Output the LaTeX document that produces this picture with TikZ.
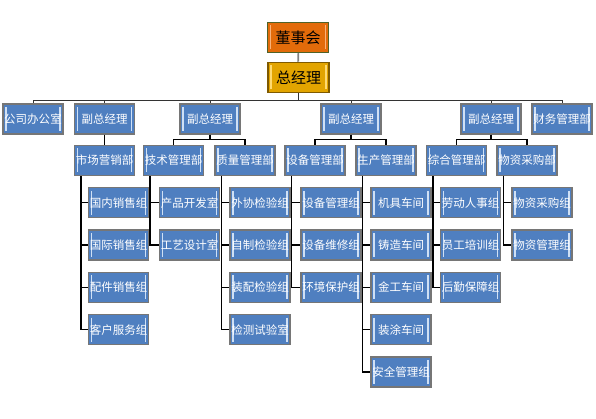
\documentclass[tikz,border=0pt]{standalone}
\usepackage{fontspec}
\newfontfamily\cjk{Noto Sans CJK SC}
\usetikzlibrary{positioning, calc}

\definecolor{boxblue}{HTML}{4F7FC0}
\definecolor{boxedge}{HTML}{767676}
\definecolor{barblue}{HTML}{CFE0F5}
\definecolor{boardorange}{HTML}{E26B0A}
\definecolor{boardedge}{HTML}{4F6228}
\definecolor{barorange}{HTML}{F9B27A}
\definecolor{gmgold}{HTML}{E2A400}
\definecolor{gmedge}{HTML}{7F5A00}
\definecolor{bargold}{HTML}{FFDA70}

\tikzset{
  bevel/.style={path picture={
    \draw[#1, line width=1.5pt] ([xshift=3pt,yshift=-3pt]path picture bounding box.north west) -- ([xshift=3pt,yshift=3pt]path picture bounding box.south west);
    \draw[#1, line width=1.5pt] ([xshift=-3pt,yshift=-3pt]path picture bounding box.north east) -- ([xshift=-3pt,yshift=3pt]path picture bounding box.south east);}},
  unit/.style={draw=boxedge, line width=1.3pt, fill=boxblue, bevel=barblue, minimum width=60pt, minimum height=30pt, inner sep=0pt, text=white, font=\cjk\fontsize{11.5}{12}\selectfont},
  topunit/.style={draw=#1, line width=1.5pt, minimum width=61pt, minimum height=30pt, inner sep=0pt, text=black, font=\cjk\fontsize{15}{16}\selectfont},
  link/.style={draw=black, line width=1.4pt},
  bus/.style={draw=black!80, line width=1pt}
}

\begin{document}
\begin{tikzpicture}[x=1pt, y=-1pt]
    \useasboundingbox (0,0) rectangle (596,419);

    % top
    \node[topunit=boardedge, fill=boardorange, bevel=barorange] (board) at (298,37.5) {董事会};
    \node[topunit=gmedge, fill=gmgold, bevel=bargold] (gm) at (298.5,77.5) {总经理};

    % level 2
    \node[unit] (office) at (33,119) {公司办公室};
    \node[unit] (vpa) at (104.5,119) {副总经理};
    \node[unit] (vpb) at (210,119) {副总经理};
    \node[unit] (vpc) at (351,119) {副总经理};
    \node[unit] (vpd) at (491,119) {副总经理};
    \node[unit] (finance) at (562,119) {财务管理部};

    % level 3
    \node[unit] (mkt) at (104.5,160.5) {市场营销部};
    \node[unit] (tech) at (173.5,160.5) {技术管理部};
    \node[unit] (qual) at (245,160.5) {质量管理部};
    \node[unit] (equip) at (315,160.5) {设备管理部};
    \node[unit] (prod) at (386,160.5) {生产管理部};
    \node[unit] (admin) at (456.5,160.5) {综合管理部};
    \node[unit] (supply) at (527,160.5) {物资采购部};

    % level 4
    \node[unit, anchor=north west] (mkt1) at ([xshift=14pt,yshift=-11pt]mkt.south west) {国内销售组};
    \node[unit, below=11pt of mkt1] (mkt2) {国际销售组};
    \node[unit, below=11pt of mkt2] (mkt3) {配件销售组};
    \node[unit, below=11pt of mkt3] (mkt4) {客户服务组};

    \node[unit, anchor=north west] (tech1) at ([xshift=16pt,yshift=-11pt]tech.south west) {产品开发室};
    \node[unit, below=11pt of tech1] (tech2) {工艺设计室};

    \node[unit, anchor=north west] (qual1) at ([xshift=15pt,yshift=-11pt]qual.south west) {外协检验组};
    \node[unit, below=11pt of qual1] (qual2) {自制检验组};
    \node[unit, below=11pt of qual2] (qual3) {装配检验组};
    \node[unit, below=11pt of qual3] (qual4) {检测试验室};

    \node[unit, anchor=north west] (equip1) at ([xshift=16pt,yshift=-11pt]equip.south west) {设备管理组};
    \node[unit, below=11pt of equip1] (equip2) {设备维修组};
    \node[unit, below=11pt of equip2] (equip3) {环境保护组};

    \node[unit, anchor=north west] (prod1) at ([xshift=15pt,yshift=-11pt]prod.south west) {机具车间};
    \node[unit, below=11pt of prod1] (prod2) {铸造车间};
    \node[unit, below=11pt of prod2] (prod3) {金工车间};
    \node[unit, below=11pt of prod3] (prod4) {装涂车间};
    \node[unit, below=11pt of prod4] (prod5) {安全管理组};

    \node[unit, anchor=north west] (admin1) at ([xshift=14pt,yshift=-11pt]admin.south west) {劳动人事组};
    \node[unit, below=11pt of admin1] (admin2) {员工培训组};
    \node[unit, below=11pt of admin2] (admin3) {后勤保障组};

    \node[unit, anchor=north west] (supply1) at ([xshift=15pt,yshift=-11pt]supply.south west) {物资采购组};
    \node[unit, below=11pt of supply1] (supply2) {物资管理组};

    % connectors
    \draw[draw=black!50, line width=1.8pt] (board) -- (gm);
    \foreach \c in {office, vpa, vpb, vpc, vpd, finance}
        \draw[bus] (gm.south) -- ++(0,7) -| (\c.north);
    \draw[link] (vpa) -- (mkt);
    \foreach \p/\c in {vpb/tech, vpb/qual, vpc/equip, vpc/prod, vpd/admin, vpd/supply}
        \draw[link] (\p.south) -- ++(0,5) -| (\c.north);

    \foreach \p/\n in {mkt/4, tech/2, qual/4, equip/3, prod/5, admin/3, supply/2}{
        \coordinate (\p-rail) at ([xshift=7pt]\p.south west);
        \foreach \i in {1,...,\n}
            \draw[link] (\p-rail) |- (\p\i.west);
    }
\end{tikzpicture}
\end{document}
